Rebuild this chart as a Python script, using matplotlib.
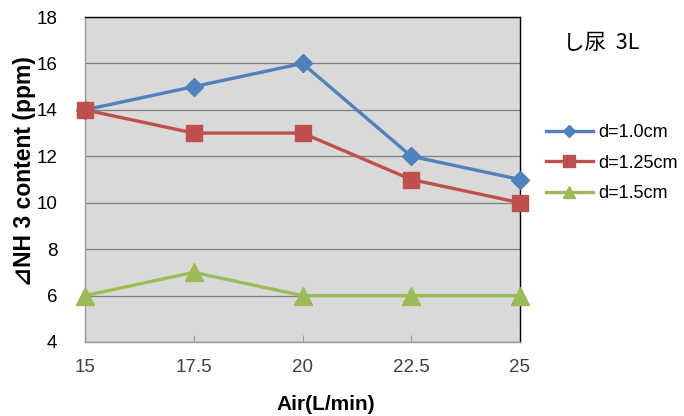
import matplotlib
matplotlib.use("Agg")
import matplotlib.pyplot as plt

# ---------- data ----------
air = ["15", "17.5", "20", "22.5", "25"]
d10 = [14, 15, 16, 12, 11]
d125 = [14, 13, 13, 11, 10]
d15 = [6, 7, 6, 6, 6]
series_labels = ["d=1.0cm", "d=1.25cm", "d=1.5cm"]
y_ticks = [4, 6, 8, 10, 12, 14, 16, 18]

plt.rcParams["font.family"] = ["Liberation Sans", "DejaVu Sans", "Noto Sans CJK JP"]

fig = plt.figure(figsize=(6.84, 4.16), dpi=100)
ax = fig.add_axes([85 / 684, 1 - 342 / 416, 435 / 684, 325 / 416])
ax.set_facecolor("#d9d9d9")

x = range(len(air))
styles = [("#4f81bd", "D", 9.5), ("#c0504d", "s", 12), ("#9bbb59", "^", 13)]
for ys, lab, (c, m, ms) in zip([d10, d125, d15], series_labels, styles):
    ax.plot(x, ys, color=c, marker=m, markersize=ms, linewidth=2.4,
            label=lab, clip_on=False, zorder=3)

ax.set_xlim(0, len(air) - 1)
ax.set_ylim(4, 18)
ax.set_yticks(y_ticks)
ax.set_xticks(list(x))
ax.set_xticklabels(air, color="#404040", fontsize=13.5)
ax.tick_params(axis="y", length=0, labelsize=13.5, pad=20)
ax.tick_params(axis="x", direction="in", length=5, color="#a0a0a0", pad=12)
ax.grid(axis="y", color="#808080", linewidth=0.9)
ax.set_axisbelow(True)

for s in ["top", "right"]:
    ax.spines[s].set_color("black")
    ax.spines[s].set_linewidth(1.0)
for s in ["left", "bottom"]:
    ax.spines[s].set_color("#999999")
    ax.spines[s].set_linewidth(1.0)

ax.set_xlabel("Air(L/min)", fontsize=15, fontweight="bold")
ax.xaxis.set_label_coords((326 - 85) / 435, -(405 - 342) / 325)
ax.xaxis.label.set_va("center")
ax.set_ylabel("⊿NH 3 content (ppm)", fontsize=16.5, fontweight="bold")
ax.yaxis.set_label_coords(-(85 - 25) / 435, (342 - 171) / 325)
ax.yaxis.label.set_va("center")

fig.text(563 / 684, 1 - 43 / 416, "し尿  3L", fontsize=15.5, va="center",
         family=["Noto Sans CJK JP", "DejaVu Sans"])

leg = fig.legend(loc="center left", bbox_to_anchor=(546 / 684, 1 - 163 / 416),
                 frameon=False, fontsize=13, handlelength=2.6, labelspacing=0.75,
                 handletextpad=0.3, borderaxespad=0, borderpad=0)
for h, ms in zip(leg.legend_handles, [6.5, 8, 8.5]):
    h.set_markersize(ms)

fig.savefig("out.png", dpi=100)
